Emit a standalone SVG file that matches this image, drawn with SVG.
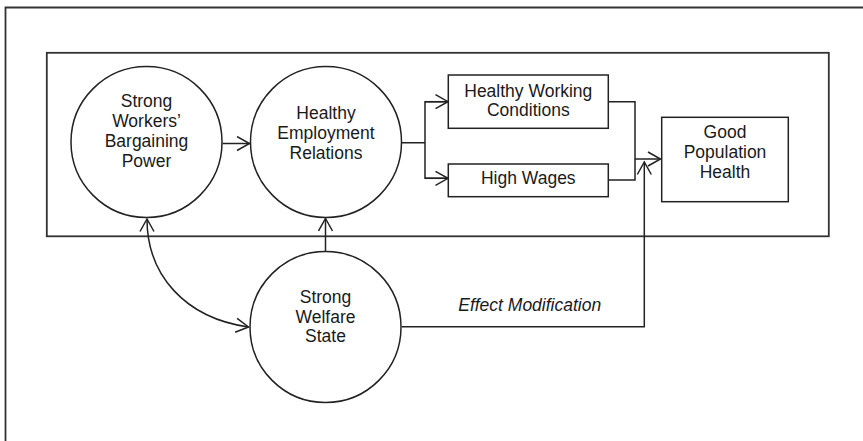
<svg xmlns="http://www.w3.org/2000/svg" width="863" height="441" viewBox="0 0 863 441">
<style>
.ln{fill:none;stroke:#222;stroke-width:1.5}
.nd{fill:#fff;stroke:#222;stroke-width:1.5}
.fr{fill:none;stroke:#333;stroke-width:1.8}
text{font-family:"Liberation Sans",Arial,sans-serif;font-size:17.5px;fill:#1a1a1a;text-anchor:middle}
.it{font-style:italic}
</style>
<defs>
<marker id="ah" markerUnits="userSpaceOnUse" markerWidth="18" markerHeight="18" refX="14" refY="8" orient="auto-start-reverse">
<path d="M1.5,1 L14,8 L1.5,15" fill="none" stroke="#222" stroke-width="1.5"/>
</marker>
</defs>
<rect width="863" height="441" fill="#fff"/>
<path class="fr" d="M5.5,441 V7.5 H863"/>
<rect id="frame" class="fr" x="46.8" y="52.8" width="782" height="183.5"/>
<g id="connectors">
<line class="ln" x1="222.5" y1="143.5" x2="249.5" y2="143.5" marker-end="url(#ah)"/>
<path class="ln" d="M401.8,142.7 H425 M448,101.7 H425 V178.3 H448" />
<line class="ln" x1="425" y1="101.7" x2="448" y2="101.7" marker-end="url(#ah)"/>
<line class="ln" x1="425" y1="178.3" x2="448" y2="178.3" marker-end="url(#ah)"/>
<path class="ln" d="M608.3,101.7 H635 V180 H608.3"/>
<line class="ln" x1="635" y1="159" x2="660.5" y2="159" marker-end="url(#ah)"/>
<path class="ln" d="M401.7,326.7 H644.3 V162" marker-end="url(#ah)"/>
<line class="ln" x1="325.5" y1="251.5" x2="325.5" y2="218.5" marker-end="url(#ah)"/>
<path class="ln" d="M147,219 C147,275 185,318 248.5,327" marker-start="url(#ah)" marker-end="url(#ah)"/>
</g>
<g id="bargaining">
<circle class="nd" cx="146.5" cy="142" r="75.5"/>
<text x="146.5" y="107">Strong</text>
<text x="146.5" y="127">Workers’</text>
<text x="146.5" y="147">Bargaining</text>
<text x="146.5" y="167">Power</text>
</g>
<g id="employment">
<circle class="nd" cx="326" cy="142" r="75.5"/>
<text x="326" y="119">Healthy</text>
<text x="326" y="138.5">Employment</text>
<text x="326" y="158.5">Relations</text>
</g>
<g id="welfare">
<circle class="nd" cx="325.5" cy="327" r="75.5"/>
<text x="325.5" y="302.7">Strong</text>
<text x="325.5" y="322.7">Welfare</text>
<text x="325.5" y="342.3">State</text>
</g>
<g id="working">
<rect class="nd" x="448.3" y="75" width="160" height="53.3"/>
<text x="528.3" y="96.5">Healthy Working</text>
<text x="528.3" y="115.5">Conditions</text>
</g>
<g id="wages">
<rect class="nd" x="448.3" y="164" width="160" height="32.7"/>
<text x="528.3" y="184">High Wages</text>
</g>
<g id="health">
<rect class="nd" x="661.7" y="117.3" width="126.6" height="84.4"/>
<text x="725" y="137.5">Good</text>
<text x="725" y="158.3">Population</text>
<text x="725" y="178">Health</text>
</g>
<text class="it" x="529.7" y="311">Effect Modification</text>
</svg>
